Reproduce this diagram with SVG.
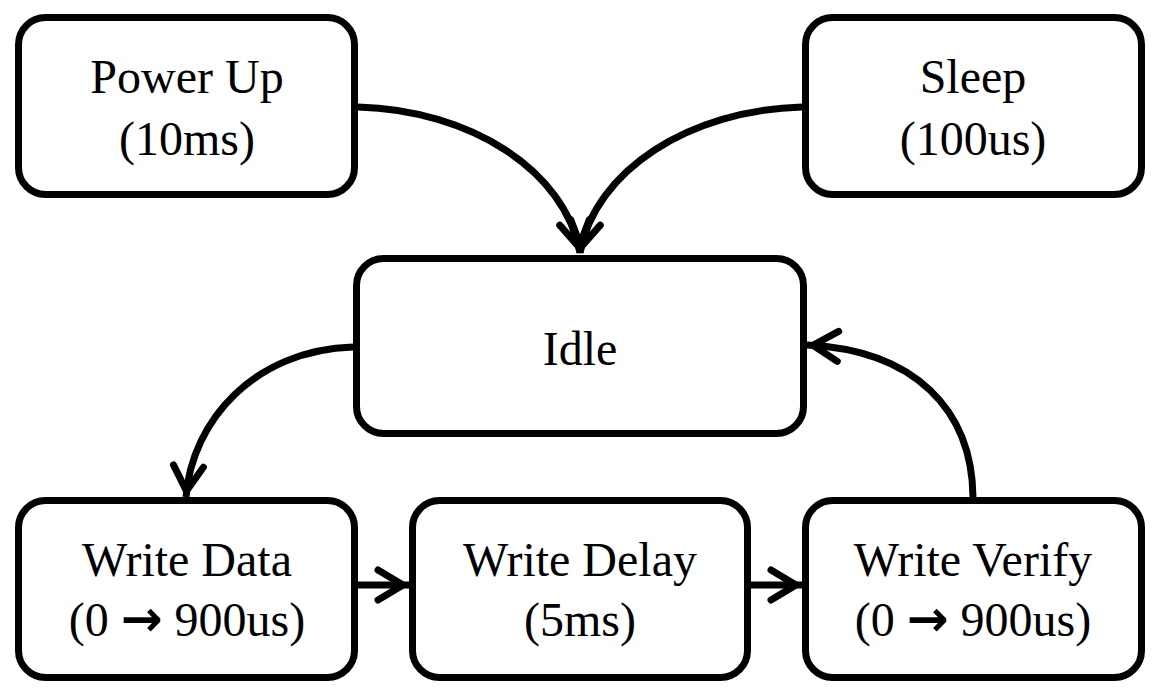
<svg xmlns="http://www.w3.org/2000/svg" width="1172" height="700" viewBox="0 0 1172 700">
<style>
.box{fill:#fff;stroke:#000;stroke-width:7}
.lbl{font-family:"Liberation Serif","Times New Roman",serif;font-size:48px;fill:#000;text-anchor:middle}
.ar{font-family:"DejaVu Sans",sans-serif;font-weight:bold;font-size:50px}
.edge{fill:none;stroke:#000;stroke-width:7;marker-end:url(#arr)}
</style>
<defs>
<marker id="arr" markerUnits="userSpaceOnUse" orient="auto" markerWidth="50" markerHeight="40" viewBox="-40 -20 50 40" refX="0" refY="0" overflow="visible">
<path d="M-31,-15 L-6,0 L-31,15" fill="none" stroke="#000" stroke-width="7" stroke-linecap="round" stroke-linejoin="miter"/>
</marker>
</defs>
<rect width="1172" height="700" fill="#fff"/>
<g id="connectors">
<path class="edge" d="M358,107 C470,110 565,170 580,253"/>
<path class="edge" d="M802,107 C690,110 595,170 580,253"/>
<path class="edge" d="M353,347 C255,350 192,420 186,497"/>
<path class="edge" d="M973,497 C972,410 915,350 807,345"/>
<path class="edge" d="M358,585 L409,585"/>
<path class="edge" d="M751,585 L802,585"/>
</g>
<g id="power-up">
<rect class="box" x="18.5" y="17.5" width="336" height="177" rx="27"/>
<text class="lbl" x="187" y="93">Power Up</text>
<text class="lbl" x="187" y="155">(10ms)</text>
</g>
<g id="sleep">
<rect class="box" x="805.5" y="17.5" width="336" height="177" rx="27"/>
<text class="lbl" x="973" y="93">Sleep</text>
<text class="lbl" x="973" y="155">(100us)</text>
</g>
<g id="idle">
<rect class="box" x="356.5" y="258.5" width="447" height="175" rx="27"/>
<text class="lbl" x="580" y="365">Idle</text>
</g>
<g id="write-data">
<rect class="box" x="18.5" y="500.5" width="336" height="177" rx="27"/>
<text class="lbl" x="187" y="576">Write Data</text>
<text class="lbl" x="187" y="636">(0 <tspan class="ar">→</tspan> 900us)</text>
</g>
<g id="write-delay">
<rect class="box" x="412.5" y="500.5" width="335" height="177" rx="27"/>
<text class="lbl" x="580" y="576">Write Delay</text>
<text class="lbl" x="580" y="636">(5ms)</text>
</g>
<g id="write-verify">
<rect class="box" x="805.5" y="500.5" width="336" height="177" rx="27"/>
<text class="lbl" x="973" y="576">Write Verify</text>
<text class="lbl" x="973" y="636">(0 <tspan class="ar">→</tspan> 900us)</text>
</g>
</svg>
